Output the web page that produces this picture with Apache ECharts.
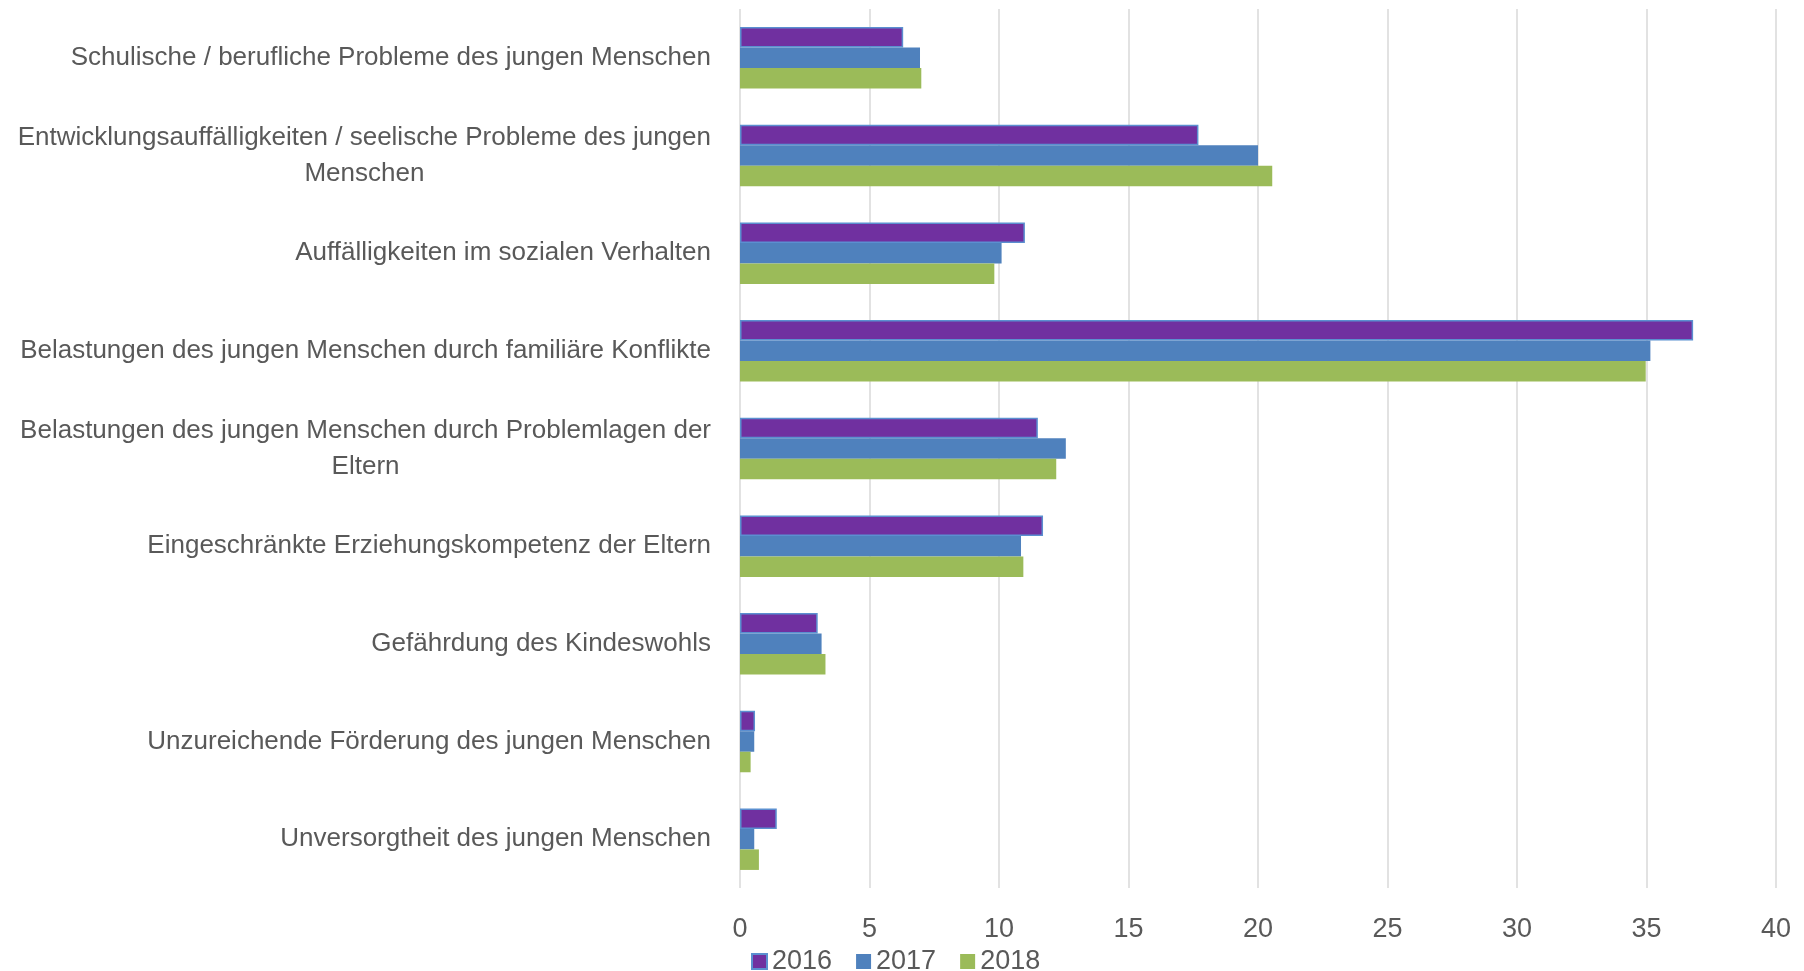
<!DOCTYPE html>
<html>
	<head>
		<meta charset="utf-8">
		<style>
			html,body{
				margin:0;
				height:100%;
				background:#fff;
			}
			#container{
				width:1804px;
				height:971px;
			}
		</style>
	</head>
	<body>
		<div id="container"></div>
	<script src="https://cdn.jsdelivr.net/npm/echarts@6/dist/echarts.min.js"></script>
	<script>
        var categories = [
            'Schulische / berufliche Probleme des jungen Menschen',
            'Entwicklungsauffälligkeiten / seelische Probleme des jungen\nMenschen',
            'Auffälligkeiten im sozialen Verhalten',
            'Belastungen des jungen Menschen durch familiäre Konflikte',
            'Belastungen des jungen Menschen durch Problemlagen der\nEltern',
            'Eingeschränkte Erziehungskompetenz der Eltern',
            'Gefährdung des Kindeswohls',
            'Unzureichende Förderung des jungen Menschen',
            'Unversorgtheit des jungen Menschen'
        ];
        var years = ['2016', '2017', '2018'];
        var values2016 = [6.3, 17.7, 11.0, 36.8, 11.5, 11.7, 3.0, 0.58, 1.42];
        var values2017 = [6.95, 20.0, 10.1, 35.15, 12.58, 10.85, 3.15, 0.55, 0.55];
        var values2018 = [7.0, 20.55, 9.82, 34.97, 12.21, 10.94, 3.3, 0.41, 0.73];
        var xTicks = [0, 5, 10, 15, 20, 25, 30, 35, 40];

        var font = '"Liberation Sans Narrow", "Arial Narrow", "Liberation Sans", sans-serif';
        var textColor = '#595959';

        var myChart = echarts.init(document.getElementById('container'));
        var option = {
            backgroundColor: '#fff',
            animation: false,
            textStyle: { fontFamily: font },
            legend: {
                data: years,
                left: 746,
                top: 943,
                itemWidth: 15,
                itemHeight: 15,
                itemGap: 24,
                icon: 'rect',
                textStyle: {
                    color: textColor,
                    fontSize: 27,
                    fontFamily: font
                }
            },
            grid: {
                left: 740,
                right: 28,
                top: 9,
                bottom: 83,
                outerBoundsMode: 'none'
            },
            xAxis: {
                type: 'value',
                min: xTicks[0],
                max: xTicks[xTicks.length - 1],
                interval: xTicks[1] - xTicks[0],
                axisLine: { show: false },
                axisTick: { show: false },
                axisLabel: {
                    color: textColor,
                    fontSize: 27,
                    fontFamily: font,
                    margin: 28
                },
                splitLine: {
                    lineStyle: { color: '#d9d9d9', width: 1.5 }
                }
            },
            yAxis: {
                type: 'category',
                inverse: true,
                data: categories,
                axisLine: { show: false },
                axisTick: { show: false },
                axisLabel: {
                    color: textColor,
                    fontSize: 26,
                    fontFamily: font,
                    margin: 29,
                    align: 'right',
                    lineHeight: 36,
                    // wrapped labels: second line centred under the first, like the original
                    formatter: function (value) {
                        return value.split('\n').map(function (line) {
                            return '{c|' + line + '}';
                        }).join('\n');
                    },
                    rich: {
                        c: {
                            align: 'center',
                            color: textColor,
                            fontSize: 26,
                            fontFamily: font,
                            lineHeight: 36
                        }
                    }
                }
            },
            series: [
                {
                    name: years[0],
                    type: 'bar',
                    data: values2016,
                    barGap: '0%',
                    barCategoryGap: '37%',
                    itemStyle: { color: '#7030a0', borderColor: '#5b8fd0', borderWidth: 1.5 }
                },
                {
                    name: years[1],
                    type: 'bar',
                    data: values2017,
                    barGap: '0%',
                    barCategoryGap: '37%',
                    itemStyle: { color: '#4f81bd' }
                },
                {
                    name: years[2],
                    type: 'bar',
                    data: values2018,
                    barGap: '0%',
                    barCategoryGap: '37%',
                    itemStyle: { color: '#9bbb59' }
                }
            ]
        };
        myChart.setOption(option);
	</script>
	</body>
</html>
